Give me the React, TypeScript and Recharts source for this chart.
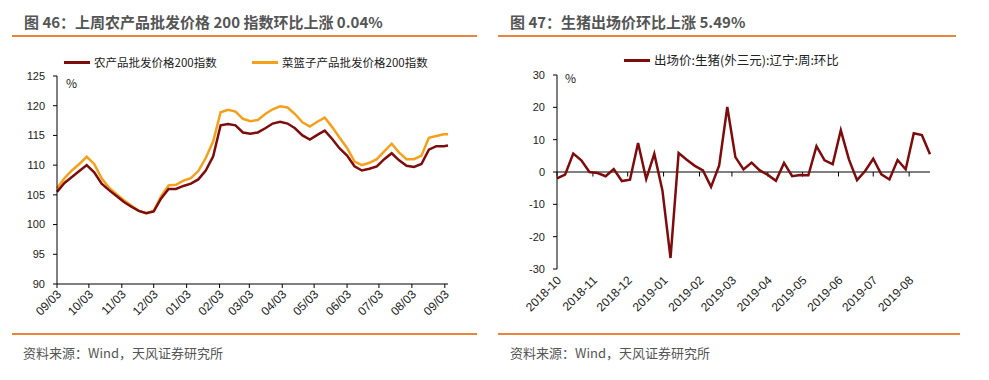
import { LineChart, Line, XAxis, YAxis, ReferenceLine } from 'recharts';

// 图46: weekly samples of the two wholesale price indices
const INDEX_DATES = [
  '2018-09-03', '2018-09-10', '2018-09-17', '2018-09-24', '2018-10-01', '2018-10-08', '2018-10-15',
  '2018-10-22', '2018-10-29', '2018-11-05', '2018-11-12', '2018-11-19', '2018-11-26', '2018-12-03',
  '2018-12-10', '2018-12-17', '2018-12-24', '2018-12-31', '2019-01-07', '2019-01-14', '2019-01-21',
  '2019-01-28', '2019-02-04', '2019-02-11', '2019-02-18', '2019-02-25', '2019-03-04', '2019-03-11',
  '2019-03-18', '2019-03-25', '2019-04-01', '2019-04-08', '2019-04-15', '2019-04-22', '2019-04-29',
  '2019-05-06', '2019-05-13', '2019-05-20', '2019-05-27', '2019-06-03', '2019-06-10', '2019-06-17',
  '2019-06-24', '2019-07-01', '2019-07-08', '2019-07-15', '2019-07-22', '2019-07-29', '2019-08-05',
  '2019-08-12', '2019-08-19', '2019-08-26', '2019-09-02', '2019-09-06',
];
const FARM_INDEX = [
  105.5, 107.0, 108.0, 109.0, 110.0, 108.8, 106.9, 105.8, 104.8, 103.8, 103.0, 102.3, 101.9, 102.2,
  104.4, 106.0, 106.0, 106.5, 106.9, 107.6, 109.1, 111.5, 116.7, 116.9, 116.7, 115.5, 115.3, 115.5,
  116.2, 117.0, 117.3, 117.0, 116.2, 115.0, 114.3, 115.1, 115.8, 114.4, 112.8, 111.6, 109.8, 109.1,
  109.4, 109.8, 111.0, 112.0, 110.8, 109.9, 109.7, 110.2, 112.6, 113.2, 113.2, 113.3,
];
const BASKET_INDEX = [
  106.1, 107.8, 109.1, 110.2, 111.4, 110.2, 107.8, 106.2, 105.1, 104.1, 103.2, 102.3, 101.9, 102.3,
  104.8, 106.6, 106.7, 107.4, 107.8, 109.0, 111.2, 114.0, 118.9, 119.3, 119.0, 117.8, 117.4, 117.6,
  118.6, 119.4, 119.9, 119.7, 118.6, 117.2, 116.5, 117.3, 118.0, 116.4, 114.6, 112.9, 110.6, 110.0,
  110.4, 111.0, 112.3, 113.6, 112.1, 111.0, 111.0, 111.6, 114.6, 114.9, 115.2, 115.2,
];
const INDEX_TICKS = [
  '2018-09-03', '2018-10-03', '2018-11-03', '2018-12-03', '2019-01-03', '2019-02-03', '2019-03-03',
  '2019-04-03', '2019-05-03', '2019-06-03', '2019-07-03', '2019-08-03', '2019-09-03',
];
const INDEX_Y_TICKS = [90, 95, 100, 105, 110, 115, 120, 125];

// 图47: weekly pig price, week-on-week %
const PIG_DATES = [
  '2018-10-01', '2018-10-08', '2018-10-15', '2018-10-22', '2018-10-29', '2018-11-05', '2018-11-12',
  '2018-11-19', '2018-11-26', '2018-12-03', '2018-12-10', '2018-12-17', '2018-12-24', '2018-12-31',
  '2019-01-07', '2019-01-14', '2019-01-21', '2019-01-28', '2019-02-04', '2019-02-11', '2019-02-18',
  '2019-02-25', '2019-03-04', '2019-03-11', '2019-03-18', '2019-03-25', '2019-04-01', '2019-04-08',
  '2019-04-15', '2019-04-22', '2019-04-29', '2019-05-06', '2019-05-13', '2019-05-20', '2019-05-27',
  '2019-06-03', '2019-06-10', '2019-06-17', '2019-06-24', '2019-07-01', '2019-07-08', '2019-07-15',
  '2019-07-22', '2019-07-29', '2019-08-05', '2019-08-12', '2019-08-19',
];
const PIG_WOW = [
  -2, -0.8, 5.7, 3.6, 0, -0.3, -1.3, 0.9, -2.8, -2.4, 9, -2.2, 5.6, -5.7, -26.6, 5.9, 3.8, 1.9, 0.5,
  -4.6, 2, 20.1, 4.6, 0.8, 2.9, 0.5, -0.9, -2.7, 2.8, -1.3, -0.9, -1, 8, 3.6, 2.4, 12.9, 3.9, -2.5,
  0.3, 4.1, -0.7, -2.3, 3.7, 0.8, 12, 11.4, 5.49,
];
const PIG_TICKS = [
  '2018-10-01', '2018-11-01', '2018-12-01', '2019-01-01', '2019-02-01', '2019-03-01', '2019-04-01',
  '2019-05-01', '2019-06-01', '2019-07-01', '2019-08-01',
];
const PIG_Y_TICKS = [-30, -20, -10, 0, 10, 20, 30];

const DARK_RED = '#7E0C0C';
const ORANGE = '#F5A01A';
const RULE = '#E8853A';
const CJK = "'Noto Sans CJK SC', 'Liberation Sans', sans-serif";
const NUM = "'Liberation Sans', Arial, sans-serif";

const toDay = (s: string) => Date.parse(s) / 86400000;
const dayStr = (d: number) => new Date(Math.round(d) * 86400000).toISOString();

const indexData = INDEX_DATES.map((d, i) => ({ day: toDay(d), farm: FARM_INDEX[i], basket: BASKET_INDEX[i] }));
const pigData = PIG_DATES.map((d, i) => ({ day: toDay(d), wow: PIG_WOW[i] }));

const SlantTick = ({ x, y, payload, fmt, dx = 0, dy = 0 }: any) => {
  const tx = x + dx;
  const ty = y + dy;
  return (
    <text x={tx} y={ty} transform={`rotate(-45 ${tx} ${ty})`} textAnchor="end" fontSize={12} fill="#222" fontFamily={NUM}>
      {fmt(payload.value)}
    </text>
  );
};

const LegendItem = ({ left, top, color, label, fontSize }: any) => (
  <div style={{ position: 'absolute', left, top, display: 'flex', alignItems: 'center', whiteSpace: 'nowrap' }}>
    <div style={{ width: 26, height: 3, background: color, marginRight: 4 }} />
    <span style={{ fontFamily: CJK, fontSize, color: '#222', lineHeight: '16px' }}>{label}</span>
  </div>
);

const text = (left: number, top: number, s: string, style: any) => (
  <div style={{ position: 'absolute', left, top, whiteSpace: 'nowrap', fontFamily: CJK, ...style }}>{s}</div>
);

const rule = (left: number, top: number, width: number) => (
  <div style={{ position: 'absolute', left, top, width, height: 2, background: RULE }} />
);

export default function App() {
  return (
    <div style={{ position: 'absolute', left: 0, top: 0, width: 989, height: 380, background: '#fff', overflow: 'hidden' }}>
      {/* left panel */}
      {text(24, 11, '图 46：上周农产品批发价格 200 指数环比上涨 0.04%', { fontSize: 15, fontWeight: 700, color: '#555' })}
      {rule(12, 35, 465)}
      <LegendItem left={64} top={54} color={DARK_RED} label="农产品批发价格200指数" fontSize={11.5} />
      <LegendItem left={252} top={54} color={ORANGE} label="菜篮子产品批发价格200指数" fontSize={11.5} />
      <div style={{ position: 'absolute', left: 0, top: 0 }}>
        <LineChart width={495} height={380} data={indexData} margin={{ top: 76, right: 47, bottom: 46, left: 10 }}>
          <XAxis
            dataKey="day"
            type="number"
            domain={[toDay('2018-09-03'), toDay('2019-09-06')]}
            ticks={INDEX_TICKS.map(toDay)}
            interval={0}
            height={50}
            stroke="#000"
            tickSize={4}
            tickMargin={0}
            tick={<SlantTick fmt={(v: number) => dayStr(v).slice(5, 10).replace('-', '/')} dx={5} dy={7} />}
          />
          <YAxis
            domain={[90, 125]}
            ticks={INDEX_Y_TICKS}
            interval={0}
            width={47}
            stroke="#000"
            tickSize={4}
            tickMargin={8}
            tick={{ fontSize: 11, fill: '#222', fontFamily: NUM }}
          />
          <Line dataKey="basket" stroke={ORANGE} strokeWidth={2.5} dot={false} isAnimationActive={false} />
          <Line dataKey="farm" stroke={DARK_RED} strokeWidth={2.5} dot={false} isAnimationActive={false} />
        </LineChart>
      </div>
      {text(66, 74, '%', { fontSize: 12, color: '#222' })}
      {rule(12, 333, 465)}
      {text(23, 343, '资料来源：Wind，天风证券研究所', { fontSize: 13, color: '#555' })}

      {/* right panel */}
      {text(510, 11, '图 47：生猪出场价环比上涨 5.49%', { fontSize: 15, fontWeight: 700, color: '#555' })}
      {rule(498, 35, 458)}
      <LegendItem left={624} top={52} color={DARK_RED} label="出场价:生猪(外三元):辽宁:周:环比" fontSize={12.5} />
      <div style={{ position: 'absolute', left: 495, top: 0 }}>
        <LineChart width={494} height={380} data={pigData} margin={{ top: 75, right: 59, bottom: 51, left: 12 }}>
          <XAxis
            dataKey="day"
            type="number"
            domain={[toDay('2018-10-01'), toDay('2019-08-19')]}
            ticks={PIG_TICKS.map(toDay)}
            interval={0}
            height={60}
            axisLine={false}
            tickLine={false}
            tickSize={0}
            tickMargin={0}
            tick={<SlantTick fmt={(v: number) => dayStr(v).slice(0, 7)} dx={5} dy={12} />}
          />
          <YAxis
            domain={[-30, 30]}
            ticks={PIG_Y_TICKS}
            interval={0}
            width={50}
            stroke="#000"
            tickSize={4}
            tickMargin={8}
            tick={{ fontSize: 11, fill: '#222', fontFamily: NUM }}
          />
          <ReferenceLine y={0} stroke="#000" strokeWidth={1} />
          {PIG_TICKS.map((d) => (
            <ReferenceLine
              key={d}
              segment={[{ x: toDay(d), y: 0 }, { x: toDay(d), y: -1.4 }]}
              stroke="#000"
              strokeWidth={1}
            />
          ))}
          <Line dataKey="wow" stroke={DARK_RED} strokeWidth={2.5} dot={false} isAnimationActive={false} />
        </LineChart>
      </div>
      {text(565, 69, '%', { fontSize: 12, color: '#222' })}
      {rule(498, 333, 462)}
      {text(510, 343, '资料来源：Wind，天风证券研究所', { fontSize: 13, color: '#555' })}
    </div>
  );
}
